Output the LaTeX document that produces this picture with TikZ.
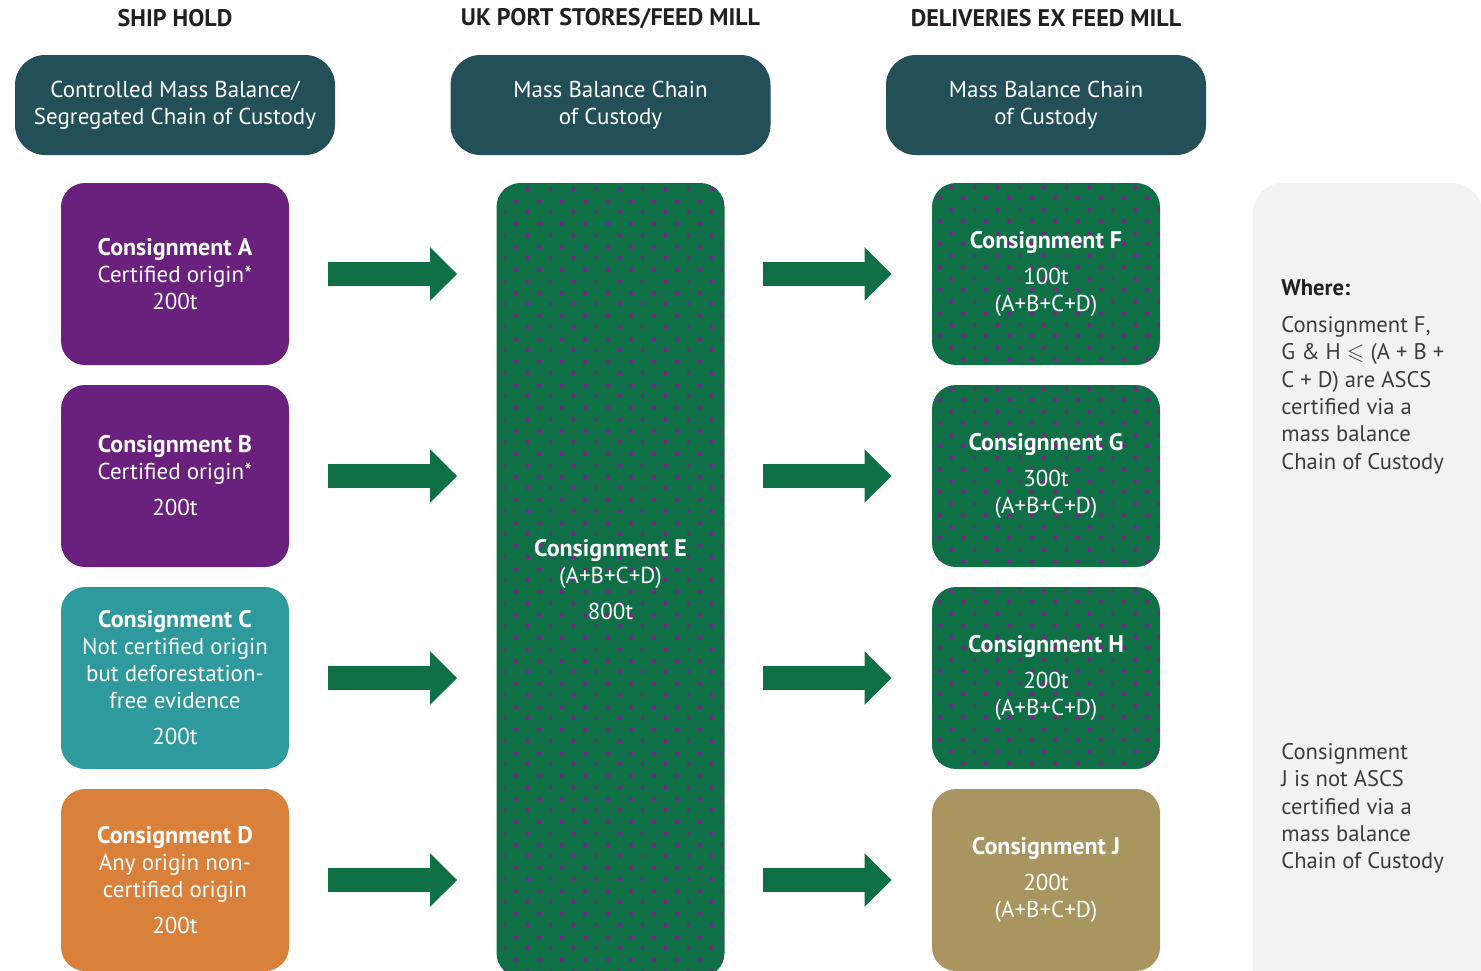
\documentclass[tikz,border=0pt]{standalone}
\usepackage{fontspec}
\setmainfont{PT Sans}
\usepackage{amssymb}
\usetikzlibrary{arrows.meta}

\definecolor{cslate}{HTML}{234F58}
\definecolor{cplum}{HTML}{6A207D}
\definecolor{cteal}{HTML}{2E9A9D}
\definecolor{corange}{HTML}{D9803B}
\definecolor{cgreen}{HTML}{0F7045}
\definecolor{cdot}{HTML}{74288A}
\definecolor{ckhaki}{HTML}{A8955F}
\definecolor{cpanel}{HTML}{F2F2F0}
\definecolor{cink}{HTML}{231F20}
\definecolor{cgrey}{HTML}{3C3C3B}

\newcommand{\lotname}[1]{{\fontsize{12}{13.5}\selectfont\bfseries #1}}

\tikzset{
	heading/.style={text=cink, font=\fontsize{12}{13}\selectfont\bfseries},
	scheme/.style={fill=cslate, text=white, rounded corners=15pt, minimum width=160pt, minimum height=50pt, align=center, inner sep=0pt, font=\fontsize{11.5}{13.5}\selectfont},
	lot/.style={rounded corners=12pt, minimum width=114pt, minimum height=91pt, align=center, inner sep=0pt, text=white, font=\fontsize{11.5}{13.5}\selectfont},
	speckle/.style={fill=cgreen, path picture={
		\foreach \i in {0,...,#1}{
			\foreach \j in {0,...,10}{
				\fill[cdot, sharp corners] ([shift={({\j*11.5pt+mod(\i,2)*5.75pt+3pt},{\i*5.75pt+2pt})}]path picture bounding box.south west) rectangle ++(1.9pt,1.9pt);
			}}}},
	bigarrow/.style={draw=cgreen, line width=12pt, -{Triangle[width=26pt,length=13.5pt]}},
	note/.style={anchor=north west, align=left, inner sep=0pt, text=cgrey, font=\fontsize{11.3}{13.65}\selectfont}
}

\begin{document}
\begin{tikzpicture}[x=0.5pt,y=-0.5pt]
	\useasboundingbox (0,0) rectangle (1481,970);
	\clip (0,0) rectangle (1481,970);
	% headings
	\node[heading] (h1) at (175,18) {SHIP HOLD};
	\node[heading] (h2) at (610.5,19) {UK PORT STORES/FEED MILL};
	\node[heading] (h3) at (1046,18) {DELIVERIES EX FEED MILL};
	\node[scheme] (s1) at (175,105) {Controlled Mass Balance/\\Segregated Chain of Custody};
	\node[scheme] (s2) at (610.5,105) {Mass Balance Chain\\of Custody};
	\node[scheme] (s3) at (1046,105) {Mass Balance Chain\\of Custody};
	% ship hold
	\node[lot, fill=cplum] (A) at (175,274) {\lotname{Consignment A}\\Certified origin*\\200t};
	\node[lot, fill=cplum] (B) at (175,476) {\lotname{Consignment B}\\Certified origin*\\[4.5pt]200t};
	\node[lot, fill=cteal] (C) at (175,678) {\lotname{Consignment C}\\Not certified origin\\but deforestation-\\free evidence\\[4.5pt]200t};
	\node[lot, fill=corange] (D) at (175,880) {\lotname{Consignment D}\\Any origin non-\\certified origin\\[4.5pt]200t};
	% feed mill
	\node[lot, speckle=70, minimum height=397pt] (E) at (610.5,580) {\lotname{Consignment E}\\(A+B+C+D)\\[4.5pt]800t};
	% deliveries
	\node[lot, speckle=16] (F) at (1046,274) {\lotname{Consignment F}\\[4.5pt]100t\\(A+B+C+D)};
	\node[lot, speckle=16] (G) at (1046,476) {\lotname{Consignment G}\\[4.5pt]300t\\(A+B+C+D)};
	\node[lot, speckle=16] (H) at (1046,678) {\lotname{Consignment H}\\[4.5pt]200t\\(A+B+C+D)};
	\node[lot, fill=ckhaki] (J) at (1046,880) {\lotname{Consignment J}\\[4.5pt]200t\\(A+B+C+D)};
	% arrows
	\foreach \n in {A,B,C,D}
		\draw[bigarrow] ([xshift=19.5pt]\n.east) -- ([xshift=-19.5pt]E.west |- \n.east);
	\foreach \n in {F,G,H,J}
		\draw[bigarrow] ([xshift=19pt]E.east |- \n.west) -- ([xshift=-20pt]\n.west);
	% where panel
	\fill[cpanel, rounded corners=15pt] (1253,183) rectangle (1482,1000);
	\node[note] (w1) at (1281,279) {\textcolor{cink}{\bfseries Where:}\\[5pt]Consignment F,\\G \& H $\leqslant$ (A + B +\\C + D) are ASCS\\certified via a\\mass balance\\Chain of Custody};
	\node[note] (w2) at (1281,743) {Consignment\\J is not ASCS\\certified via a\\mass balance\\Chain of Custody};
\end{tikzpicture}
\end{document}
